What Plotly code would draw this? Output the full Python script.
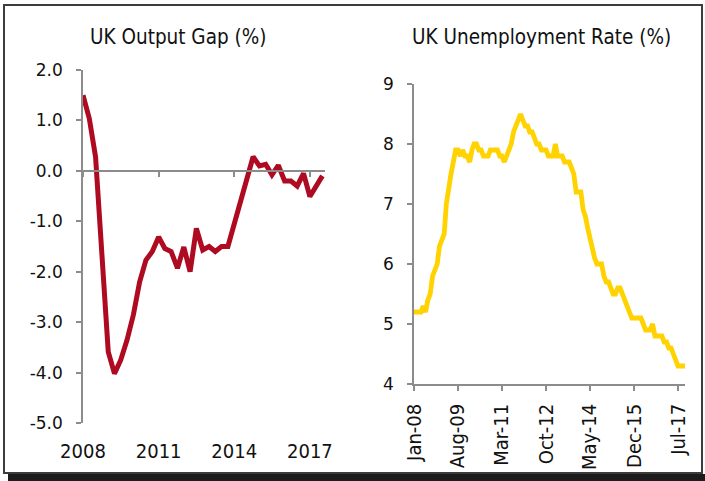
import pandas as pd
import plotly.graph_objects as go

# ---- UK output gap, quarterly from 2008 Q1 (%) ----
gap_start = "2008-01-01"
output_gap = [1.50, 1.04, 0.28, -1.70, -3.59, -4.02, -3.75, -3.35, -2.85, -2.20,
              -1.77, -1.60, -1.31, -1.54, -1.60, -1.93, -1.51, -2.00, -1.14, -1.57,
              -1.50, -1.60, -1.50, -1.50, -1.05, -0.62, -0.20, 0.28, 0.10, 0.13,
              -0.08, 0.11, -0.20, -0.20, -0.30, -0.05, -0.51, -0.31, -0.10]
gap_year_labels = ["2008", "2011", "2014", "2017"]
gap_y_ticks = [-5.0, -4.0, -3.0, -2.0, -1.0, 0.0, 1.0, 2.0]
gap_y_labels = ["-5.0", "-4.0", "-3.0", "-2.0", "-1.0", "0.0", "1.0", "2.0"]

# ---- UK unemployment rate, monthly from Jan 2008 (%) ----
unemp_start = "2008-01-01"
unemployment = [5.2, 5.2, 5.2, 5.2, 5.3, 5.2, 5.4, 5.5, 5.8, 5.9, 6.0, 6.3,
                6.4, 6.5, 7.0, 7.3, 7.5, 7.7, 7.9, 7.9, 7.8, 7.9, 7.8, 7.8,
                7.7, 7.9, 8.0, 8.0, 7.9, 7.9, 7.8, 7.8, 7.8, 7.9, 7.9, 7.9,
                7.9, 7.8, 7.8, 7.7, 7.8, 7.9, 8.0, 8.2, 8.3, 8.4, 8.5, 8.4,
                8.3, 8.3, 8.2, 8.2, 8.1, 8.0, 8.0, 7.9, 7.9, 7.9, 7.8, 7.8,
                7.8, 8.0, 7.8, 7.8, 7.8, 7.7, 7.7, 7.7, 7.6, 7.5, 7.2, 7.2,
                7.2, 6.9, 6.8, 6.6, 6.4, 6.3, 6.1, 6.0, 6.0, 6.0, 5.8, 5.7,
                5.7, 5.6, 5.5, 5.5, 5.6, 5.6, 5.5, 5.4, 5.3, 5.2, 5.1, 5.1,
                5.1, 5.1, 5.1, 5.0, 4.9, 4.9, 4.9, 5.0, 4.8, 4.8, 4.8, 4.8,
                4.7, 4.7, 4.6, 4.6, 4.5, 4.4, 4.3, 4.3, 4.3, 4.3]
unemp_tick_labels = ["Jan-08", "Aug-09", "Mar-11", "Oct-12", "May-14", "Dec-15", "Jul-17"]
unemp_y_ticks = [4, 5, 6, 7, 8, 9]

RED = "#AE0B22"
YELLOW = "#FFD200"
AXIS = "#8C8C8C"
TEXT = "#111111"
FONT_TITLE = "DejaVu Sans Condensed, DejaVu Sans, sans-serif"
FONT_TICK = "DejaVu Sans, sans-serif"

W, H = 705, 481


def px_x(p):
    return p / W


def px_y(p):
    return (H - p) / H


gap_dates = pd.date_range(gap_start, periods=len(output_gap), freq="QS")
gap_tickvals = pd.to_datetime([f"{y}-01-01" for y in gap_year_labels])
unemp_dates = pd.date_range(unemp_start, periods=len(unemployment), freq="MS")
unemp_tickvals = pd.to_datetime(unemp_tick_labels, format="%b-%y")

gap_range = [-5.0, 2.0]
left_ydom = [px_y(423), px_y(70)]
zero_pos = left_ydom[0] + (0 - gap_range[0]) / (gap_range[1] - gap_range[0]) * (left_ydom[1] - left_ydom[0])

fig = go.Figure()

fig.add_trace(go.Scatter(
    x=gap_dates, y=output_gap, mode="lines",
    line=dict(color=RED, width=5), xaxis="x", yaxis="y",
    showlegend=False, hoverinfo="skip",
))
# carrier trace so the zero-line axis is drawn
fig.add_trace(go.Scatter(
    x=[None], y=[None], mode="lines", xaxis="x3", yaxis="y",
    showlegend=False, hoverinfo="skip",
))
fig.add_trace(go.Scatter(
    x=unemp_dates, y=unemployment, mode="lines",
    line=dict(color=YELLOW, width=4.8), xaxis="x2", yaxis="y2",
    showlegend=False, hoverinfo="skip",
))

gap_xrange = [pd.Timestamp("2008-01-01"), pd.Timestamp("2017-08-08")]

fig.update_layout(
    width=W, height=H,
    margin=dict(l=0, r=0, t=0, b=0, autoexpand=False),
    paper_bgcolor="white", plot_bgcolor="white",
    font=dict(family=FONT_TICK, color=TEXT),
    xaxis=dict(
        domain=[px_x(83), px_x(325)], anchor="y", type="date", automargin=False,
        range=gap_xrange, tickvals=gap_tickvals, ticktext=gap_year_labels,
        showline=False, ticks="", showgrid=False, zeroline=False,
        tickfont=dict(family=FONT_TITLE, size=20, color=TEXT),
        ticklabelstandoff=14,
    ),
    xaxis3=dict(
        overlaying="x", matches="x", anchor="free", position=zero_pos, type="date",
        automargin=False,
        tickvals=gap_tickvals, showticklabels=False,
        showline=True, linecolor=AXIS, linewidth=1.5,
        ticks="outside", ticklen=5, tickwidth=1.5, tickcolor=AXIS,
        showgrid=False, zeroline=False,
    ),
    yaxis=dict(
        domain=left_ydom, anchor="x", range=gap_range, automargin=False,
        tickvals=gap_y_ticks, ticktext=gap_y_labels,
        showline=True, linecolor=AXIS, linewidth=1.5,
        ticks="outside", ticklen=5, tickwidth=1.5, tickcolor=AXIS,
        showgrid=False, zeroline=False,
        tickfont=dict(family=FONT_TICK, size=17, color=TEXT),
        ticklabelstandoff=10,
    ),
    xaxis2=dict(
        domain=[px_x(414), px_x(685)], anchor="y2", type="date", automargin=False,
        range=[unemp_dates[0], unemp_dates[-1]],
        tickvals=unemp_tickvals, ticktext=unemp_tick_labels, tickangle=-90,
        showline=True, linecolor=AXIS, linewidth=1.5,
        ticks="outside", ticklen=5, tickwidth=1.5, tickcolor=AXIS,
        showgrid=False, zeroline=False,
        tickfont=dict(family=FONT_TITLE, size=20, color=TEXT),
        ticklabelstandoff=5,
    ),
    yaxis2=dict(
        domain=[px_y(384), px_y(84)], anchor="x2", range=[4, 9], automargin=False,
        tickvals=unemp_y_ticks,
        showline=True, linecolor=AXIS, linewidth=1.5,
        ticks="outside", ticklen=5, tickwidth=1.5, tickcolor=AXIS,
        showgrid=False, zeroline=False,
        tickfont=dict(family=FONT_TICK, size=17, color=TEXT),
        ticklabelstandoff=10,
    ),
    annotations=[
        dict(text="UK Output Gap (%)", x=px_x(178.5), y=px_y(37), xref="paper", yref="paper",
             xanchor="center", yanchor="middle", showarrow=False,
             font=dict(family=FONT_TITLE, size=20.5, color=TEXT)),
        dict(text="UK Unemployment Rate (%)", x=px_x(541), y=px_y(37), xref="paper", yref="paper",
             xanchor="center", yanchor="middle", showarrow=False,
             font=dict(family=FONT_TITLE, size=20.5, color=TEXT)),
    ],
    shapes=[
        # drop shadow along the bottom of the frame
        dict(type="rect", xref="paper", yref="paper", layer="below",
             x0=px_x(8), x1=1, y0=0, y1=px_y(474),
             fillcolor="#1C1C1C", line=dict(width=0)),
        # outer frame
        dict(type="rect", xref="paper", yref="paper", layer="above",
             x0=px_x(4), x1=px_x(702), y0=px_y(473), y1=px_y(5),
             line=dict(color="#3C3C3C", width=2)),
    ],
)

fig.write_html("out.html")
